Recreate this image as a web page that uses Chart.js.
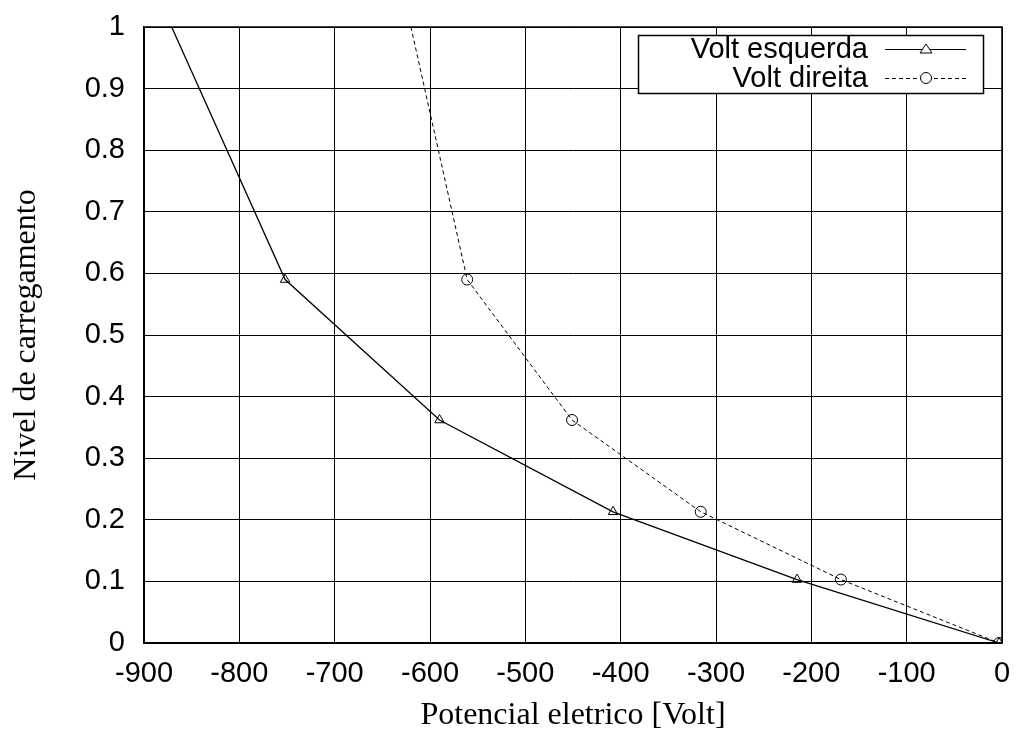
<!DOCTYPE html>
<html>
<head>
<meta charset="utf-8">
<script src="https://cdn.jsdelivr.net/npm/chart.js@4.4.0/dist/chart.umd.min.js"></script>
<style>
  html, body { margin: 0; padding: 0; background: #fff; }
  #wrap { width: 1016px; height: 736px; }
</style>
</head>
<body>
<div id="wrap"><canvas id="chart" width="1016" height="736"></canvas></div>
<script>
// --- DATA ---
const esquerdaX = [-871, -752, -590, -408, -215, -3];
const esquerdaY = [1.0, 0.59, 0.362, 0.213, 0.103, 0];
const direitaX = [-620, -561, -451, -316, -169, -3];
const direitaY = [1.0, 0.59, 0.362, 0.213, 0.103, 0];
const seriesNames = ['Volt esquerda', 'Volt direita'];
const xTitle = 'Potencial eletrico [Volt]';
const yTitle = 'Nivel de carregamento';

const toPoints = (xs, ys) => xs.map((x, i) => ({ x: x, y: ys[i] }));
// first point of each series is where the curve leaves the plot: no marker there
const radii = n => Array.from({ length: n }, (_, i) => (i === 0 ? 0 : 5.5));

const sansFont = { family: '"Liberation Sans", Arial, sans-serif', size: 29 };
const serifFont = { family: '"Liberation Serif", "Times New Roman", serif', size: 32 };

// gnuplot-style key drawn inside the plot, text to the left of the sample
const keyBox = {
  id: 'keyBox',
  afterDraw(chart) {
    const ctx = chart.ctx;
    const x0 = 638, y0 = 35, w = 345, h = 58;
    ctx.save();
    ctx.fillStyle = '#fff';
    ctx.fillRect(x0, y0, w, h);
    ctx.strokeStyle = '#000';
    ctx.lineWidth = 1.5;
    ctx.strokeRect(x0 + 0.5, y0 + 0.5, w, h);
    ctx.font = '29px "Liberation Sans", Arial, sans-serif';
    ctx.fillStyle = '#000';
    ctx.textAlign = 'right';
    ctx.textBaseline = 'middle';
    const rows = [49, 78];
    chart.data.datasets.forEach((ds, i) => {
      const y = rows[i];
      ctx.fillText(seriesNames[i], 868, y + 1);
      ctx.lineWidth = 1;
      ctx.setLineDash(ds.borderDash || []);
      ctx.beginPath();
      ctx.moveTo(885, y + 0.5);
      ctx.lineTo(966, y + 0.5);
      ctx.stroke();
      ctx.setLineDash([]);
      ctx.fillStyle = '#fff';
      if (ds.pointStyle === 'triangle') {
        ctx.beginPath();
        ctx.moveTo(926, y - 5);
        ctx.lineTo(932, y + 4);
        ctx.lineTo(920, y + 4);
        ctx.closePath();
        ctx.fill();
        ctx.stroke();
      } else {
        ctx.beginPath();
        ctx.arc(926, y, 5.5, 0, Math.PI * 2);
        ctx.fill();
        ctx.stroke();
      }
      ctx.fillStyle = '#000';
    });
    ctx.restore();
  }
};

new Chart(document.getElementById('chart'), {
  type: 'scatter',
  data: {
    datasets: [
      {
        label: seriesNames[0],
        data: toPoints(esquerdaX, esquerdaY),
        showLine: true,
        borderColor: '#000',
        borderWidth: 1.3,
        pointStyle: 'triangle',
        pointRadius: radii(esquerdaX.length),
        pointBackgroundColor: 'rgba(255,255,255,0)',
        pointBorderColor: '#000',
        pointBorderWidth: 1
      },
      {
        label: seriesNames[1],
        data: toPoints(direitaX, direitaY),
        showLine: true,
        borderColor: '#000',
        borderWidth: 1,
        borderDash: [4, 3],
        pointStyle: 'circle',
        pointRadius: radii(direitaX.length),
        pointBackgroundColor: 'rgba(255,255,255,0)',
        pointBorderColor: '#000',
        pointBorderWidth: 1
      }
    ]
  },
  options: {
    responsive: false,
    animation: false,
    layout: { padding: { left: 0, top: 27, right: 14, bottom: 0 } },
    plugins: { legend: { display: false }, tooltip: { enabled: false } },
    scales: {
      x: {
        type: 'linear',
        min: -900,
        max: 0,
        afterFit: s => { s.height = 93; s.paddingLeft = 0; s.paddingRight = 0; },
        ticks: { stepSize: 100, color: '#000', font: sansFont, padding: 14, maxRotation: 0 },
        grid: { color: '#000', lineWidth: 1, drawTicks: false },
        border: { color: '#000', width: 1.5 },
        title: { display: true, text: xTitle, color: '#000', font: serifFont, padding: { top: 0, bottom: 1 } }
      },
      y: {
        min: 0,
        max: 1,
        afterFit: s => { s.width = 144; s.paddingTop = 0; s.paddingBottom = 0; },
        ticks: {
          stepSize: 0.1,
          color: '#000',
          font: sansFont,
          padding: 19,
          callback: v => String(Math.round(v * 10) / 10)
        },
        grid: { color: '#000', lineWidth: 1, drawTicks: false },
        border: { color: '#000', width: 1.5 },
        title: { display: true, text: yTitle, color: '#000', font: serifFont, padding: { top: 7, bottom: 0 } }
      }
    }
  },
  plugins: [keyBox, {
    id: 'frame',
    afterDraw(chart) {
      const a = chart.chartArea, ctx = chart.ctx;
      ctx.save();
      ctx.strokeStyle = '#000';
      ctx.lineWidth = 1.5;
      ctx.strokeRect(a.left, a.top, a.right - a.left, a.bottom - a.top);
      ctx.restore();
    }
  }]
});
</script>
</body>
</html>
